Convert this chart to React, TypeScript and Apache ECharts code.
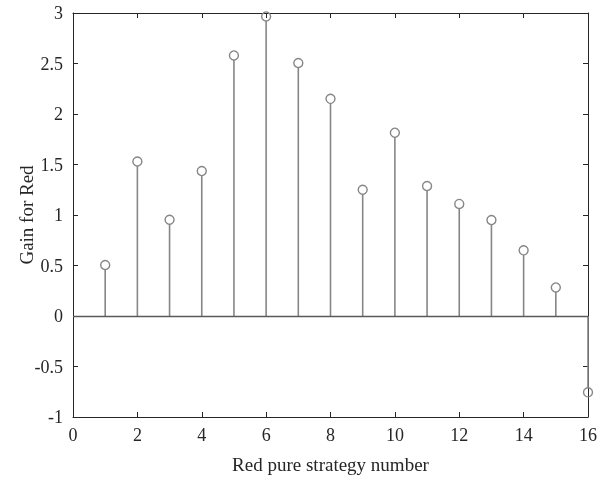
import React, { useEffect, useRef } from "react";
import * as echarts from "echarts";

const strategies = [1, 2, 3, 4, 5, 6, 7, 8, 9, 10, 11, 12, 13, 14, 15, 16];
const gains = [0.505, 1.53, 0.953, 1.435, 2.58, 2.966, 2.505, 2.15, 1.25, 1.815, 1.287, 1.11, 0.95, 0.65, 0.283, -0.756];
const xTitle = "Red pure strategy number";
const yTitle = "Gain for Red";

const FONT = "'Liberation Serif', 'Times New Roman', serif";
const AXIS = "#262626";
const STEM = "#868686";

export default function App() {
  const ref = useRef<HTMLDivElement>(null);
  useEffect(() => {
    if (!ref.current) return;
    const chart = echarts.init(ref.current, null, { renderer: "svg" });
    const data = strategies.map((s, i) => [s, gains[i]]);
    const boxAxis = {
      axisLine: { show: true, onZero: false, lineStyle: { color: AXIS, width: 1 } },
      axisTick: { show: true, inside: true, length: 5, lineStyle: { color: AXIS } },
      axisLabel: { show: false },
      splitLine: { show: false },
    };
    chart.setOption({
      animation: false,
      grid: { left: 73, right: 7, top: 13, bottom: 62, containLabel: false },
      xAxis: [
        {
          type: "value",
          min: 0,
          max: 16,
          interval: 2,
          name: xTitle,
          nameLocation: "middle",
          nameGap: 38,
          nameMoveOverlap: false,
          nameTextStyle: { fontFamily: FONT, fontSize: 19, color: AXIS },
          axisLine: { show: true, onZero: false, lineStyle: { color: AXIS, width: 1 } },
          axisTick: { show: true, inside: true, length: 5, lineStyle: { color: AXIS } },
          axisLabel: { fontFamily: FONT, fontSize: 18, color: AXIS, margin: 9 },
          splitLine: { show: false },
        },
        { type: "value", min: 0, max: 16, interval: 2, position: "top", ...boxAxis },
      ],
      yAxis: [
        {
          type: "value",
          min: -1,
          max: 3,
          interval: 0.5,
          name: yTitle,
          nameLocation: "middle",
          nameGap: 37,
          nameMoveOverlap: false,
          nameTextStyle: { fontFamily: FONT, fontSize: 19, color: AXIS },
          axisLine: { show: true, onZero: false, lineStyle: { color: AXIS, width: 1 } },
          axisTick: { show: true, inside: true, length: 5, lineStyle: { color: AXIS } },
          axisLabel: { fontFamily: FONT, fontSize: 18, color: AXIS, margin: 10 },
          splitLine: { show: false },
        },
        { type: "value", min: -1, max: 3, interval: 0.5, position: "right", ...boxAxis },
      ],
      series: [
        {
          type: "custom",
          clip: false,
          data,
          renderItem: (params: any, api: any) => {
            const x = api.value(0);
            const y = api.value(1);
            const top = api.coord([x, y]);
            const base = api.coord([x, 0]);
            return {
              type: "group",
              children: [
                {
                  type: "line",
                  shape: { x1: base[0], y1: base[1], x2: top[0], y2: y >= 0 ? top[1] + 4.5 : top[1] - 4.5 },
                  style: { stroke: STEM, lineWidth: 1.6 },
                },
                {
                  type: "circle",
                  shape: { cx: top[0], cy: top[1], r: 4.5 },
                  style: { stroke: STEM, fill: "none", lineWidth: 1.4 },
                },
              ],
            };
          },
          markLine: {
            silent: true,
            symbol: "none",
            label: { show: false },
            lineStyle: { color: "#5a5a5a", type: "solid", width: 1.4 },
            data: [{ yAxis: 0 }],
          },
        },
      ],
    });
    return () => chart.dispose();
  }, []);
  return <div ref={ref} style={{ position: "fixed", left: 0, top: 0, width: 600, height: 479 }} />;
}
